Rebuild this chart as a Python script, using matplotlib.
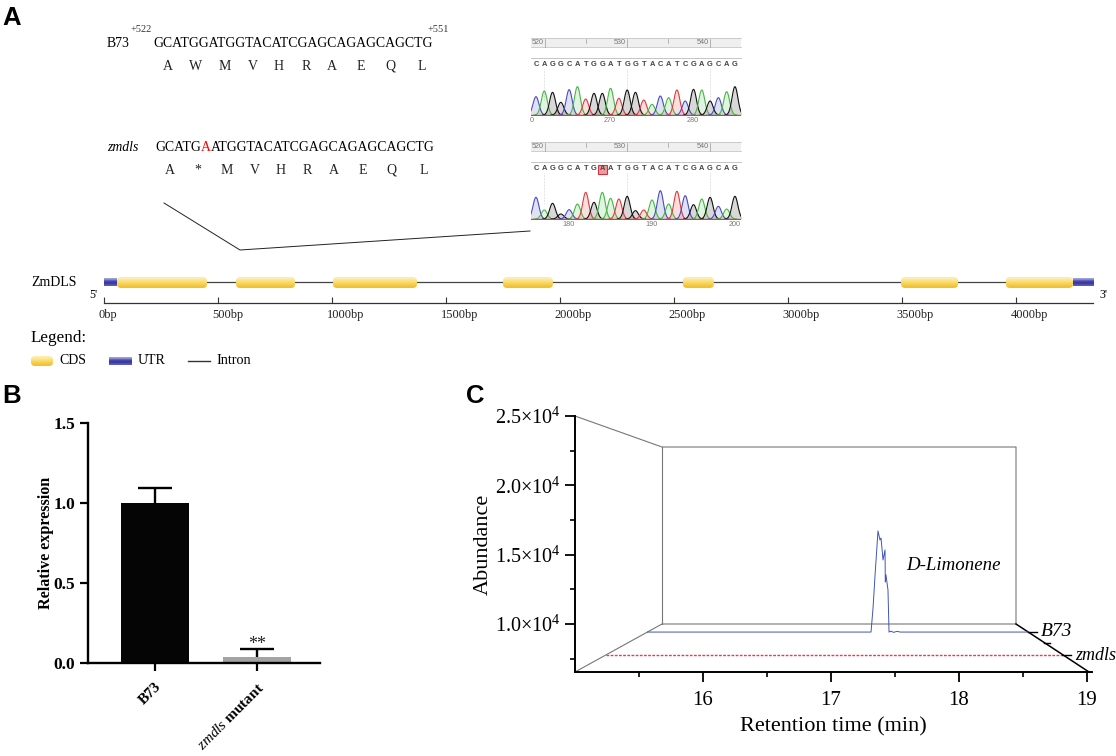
import matplotlib
matplotlib.use('Agg')
import matplotlib.pyplot as plt
import numpy as np
from matplotlib.patches import FancyBboxPatch, Rectangle

plt.rcParams['font.family'] = ['Liberation Serif', 'DejaVu Serif']
plt.rcParams['mathtext.fontset'] = 'custom'
plt.rcParams['mathtext.rm'] = 'Liberation Serif'
plt.rcParams['mathtext.it'] = 'Liberation Serif:italic'
plt.rcParams['mathtext.bf'] = 'Liberation Serif:bold'

W, H = 1116, 756

# panel A, sequences
seq_b73 = 'GCATGGATGGTACATCGAGCAGAGCAGCTG'
seq_mut_left = 'GCATG'
seq_mut_red = 'A'
seq_mut_right = 'ATGGTACATCGAGCAGAGCAGCTG'
aa_b73 = ['A', 'W', 'M', 'V', 'H', 'R', 'A', 'E', 'Q', 'L']
aa_mut = ['A', '*', 'M', 'V', 'H', 'R', 'A', 'E', 'Q', 'L']

# panel A, chromatograms
bases = 'CAGGCATGGATGGTACATCGAGCAG'
bases_mut = 'CAGGCATGAATGGTACATCGAGCAG'
peaks_b73 = [55, 72, 68, 38, 76, 85, 48, 65, 65, 80, 50, 75, 68, 45, 32, 57, 52, 75, 42, 77, 75, 42, 52, 70, 85]
peaks_mut = [65, 27, 47, 15, 28, 45, 80, 50, 80, 62, 60, 68, 25, 27, 57, 85, 45, 83, 70, 43, 60, 65, 38, 30, 68]
base_colors = {'A': '#45b845', 'C': '#4a4ac0', 'G': '#111111', 'T': '#e03a3a'}

# panel A, gene model (bp)
cds_start = [57, 579, 1004, 1750, 2539, 3496, 3956]
cds_end = [452, 838, 1373, 1969, 2675, 3746, 4250]
utr_start = [0, 4250]
utr_end = [57, 4338]
bp_ticks = [0, 500, 1000, 1500, 2000, 2500, 3000, 3500, 4000]

# panel B
genotypes = ['B73', r'$\mathit{zmdls}$ mutant']
expression = [1.0, 0.04]
expression_err = [0.095, 0.05]

# panel C
rt_ticks = [16, 17, 18, 19]
abundance_ticks = [1.0e4, 1.5e4, 2.0e4, 2.5e4]
abundance_labels = [r'1.0$\times$10$^{4}$', r'1.5$\times$10$^{4}$', r'2.0$\times$10$^{4}$', r'2.5$\times$10$^{4}$']
b73_time = [15.0, 17.352, 17.373, 17.394, 17.425, 17.446, 17.457, 17.478, 17.499, 17.502, 17.509, 17.530, 17.541, 17.56, 17.59, 17.625, 17.66, 19.0]
b73_abund = [9420, 9420, 11150, 13500, 16710, 16060, 16200, 14620, 15340, 13030, 13540, 12450, 9420, 9480, 9400, 9470, 9420, 9420]
mut_time = [15.0, 19.0]
mut_abund = [7770, 7770]


def px_axes(left, top, right, bottom, **kw):
    return fig.add_axes([left / W, 1 - bottom / H, (right - left) / W, (bottom - top) / H], **kw)


fig = plt.figure(figsize=(W / 100, H / 100), dpi=100)

# overlay in pixels for labels and guide lines
ov = px_axes(0, 0, W, H)
ov.set_xlim(0, W)
ov.set_ylim(H, 0)
ov.axis('off')

for letter, x, y in [('A', 2, 18), ('B', 2, 396), ('C', 466, 396)]:
    ov.text(x, y, letter, family='Liberation Sans', weight='bold', fontsize=18.5, va='center', ha='left')

seq_size = 9.95
ov.text(107, 47, 'B73', fontsize=seq_size, va='baseline')
ov.text(131, 32, '+522', fontsize=7.5, va='baseline', color='#333333')
ov.text(428, 32, '+551', fontsize=7.5, va='baseline', color='#333333')
ov.text(153, 47, seq_b73, fontsize=seq_size, va='baseline')
ov.text(107, 151, 'zmdls', fontsize=seq_size, style='italic', va='baseline')

# mutant sequence is put together piece by piece for the red base
renderer = fig.canvas.get_renderer()
x_now = 155
for part, col in [(seq_mut_left, 'black'), (seq_mut_red, 'red'), (seq_mut_right, 'black')]:
    t = ov.text(x_now, 151, part, fontsize=seq_size, va='baseline', color=col)
    x_now += t.get_window_extent(renderer).width

aa_x = [168, 196, 225, 253, 279, 306, 332, 361, 390, 422]
for x, a in zip(aa_x, aa_b73):
    ov.text(x, 66, a, fontsize=10, ha='center', va='center', color='#222222')
for x, a in zip(aa_x, aa_mut):
    ov.text(x + 1.5, 170, a, fontsize=10, ha='center', va='center', color='#222222')

ov.plot([164, 240, 530], [203, 250, 231], color='#222222', lw=0.7)

ov.text(31, 283, 'ZmDLS', fontsize=10, va='center')
ov.text(89, 295, "5'", fontsize=8.5, va='center')
ov.text(1099, 295, "3'", fontsize=8.5, va='center')
ov.text(31, 338, 'Legend:', fontsize=12.3, va='center')
ov.text(59, 361, 'CDS', fontsize=10, va='center')
ov.text(138, 361, 'UTR', fontsize=10, va='center')
ov.plot([188, 210], [361, 361], color='#333333', lw=1)
ov.text(216, 361, 'Intron', fontsize=10.2, va='center')


def chromatogram(top, shown, heights, ruler_labels, bottom_labels, highlight=None):
    # ruler band
    ov.add_patch(Rectangle((531, top), 210, 9, facecolor='#efefef', edgecolor='none'))
    ov.plot([531, 741], [top, top], color='#bbbbbb', lw=0.5)
    ov.plot([531, 741], [top + 9, top + 9], color='#bbbbbb', lw=0.5)
    ov.plot([531, 741], [top + 20, top + 20], color='#bbbbbb', lw=0.6)
    for x, lab in zip([545, 627, 710], ruler_labels):
        ov.plot([x, x], [top + 1, top + 9], color='#999999', lw=0.5)
        ov.text(x - 7, top + 5, lab, family='Liberation Sans', fontsize=5.2, color='#777777', ha='center', va='center')
    for x in [586, 668]:
        ov.plot([x, x], [top + 1, top + 5], color='#999999', lw=0.5)

    idx = np.arange(len(shown))
    base_x = 536 + idx * 8.29
    if highlight is not None:
        ov.add_patch(Rectangle((base_x[highlight] - 4.5, top + 22.5), 9, 9, facecolor='#f29a9a', edgecolor='#cc3344', lw=0.8, zorder=0.5))
    for x, b in zip(base_x, shown):
        ov.text(x, top + 27, b, family='Liberation Sans', fontsize=5.4, weight='bold', color='#444444', ha='center', va='center')
    for i in [1, 11, 21]:
        ov.plot([base_x[i], base_x[i]], [top + 31, top + 62], color='#aaaaaa', lw=0.4, ls=':')

    ax = px_axes(531, top + 40, 741, top + 78)
    ax.set_xlim(-0.6, 24.73)
    ax.set_ylim(-3, 111)
    ax.axis('off')
    ax.patch.set_alpha(0)
    for i, h, b in zip(idx, heights, shown):
        xs = np.linspace(i - 1.2, i + 1.2, 49)
        ys = h * np.exp(-((xs - i) / 0.5) ** 2)
        ax.fill_between(xs, 0, ys, color=base_colors[b], alpha=0.16, lw=0)
        ax.plot(xs, ys, color=base_colors[b], lw=0.8)
    ax.axhline(0, color='#d04040', lw=1)

    for x, lab in bottom_labels:
        ov.text(x, top + 82, lab, family='Liberation Sans', fontsize=5.2, color='#777777', ha='center', va='center')


chromatogram(38, bases, peaks_b73, ['520', '530', '540'], [(532, '0'), (610, '270'), (693, '280')])
chromatogram(142, bases_mut, peaks_mut, ['520', '530', '540'], [(569, '180'), (652, '190'), (735, '200')], highlight=8)

# gene model
gene = px_axes(104, 270, 1093, 303)
gene.set_xlim(0, 4338)
gene.set_ylim(303, 270)
gene.patch.set_alpha(0)
for s in ['top', 'left', 'right']:
    gene.spines[s].set_visible(False)
gene.spines['bottom'].set_linewidth(0.9)
gene.spines['bottom'].set_color('#333333')
gene.set_yticks([])
gene.set_xticks(bp_ticks)
gene.set_xticklabels([])
gene.tick_params(axis='x', direction='in', length=4.5, width=0.8, color='#333333')
gene.plot([0, 4338], [282, 282], color='#444444', lw=0.9, zorder=1)

cds_grad = np.array([[0.99, 0.93, 0.68], [0.98, 0.88, 0.50], [0.97, 0.82, 0.32], [0.95, 0.76, 0.20]])[:, None, :]
utr_grad = np.array([[0.62, 0.62, 0.85], [0.30, 0.30, 0.68], [0.20, 0.20, 0.62], [0.35, 0.35, 0.72]])[:, None, :]


def draw_block(ax, x0, x1, y0, y1, grad, round_size, aspect):
    patch = FancyBboxPatch((x0, y0), x1 - x0, y1 - y0, boxstyle='round,pad=0,rounding_size=%f' % round_size,
                           mutation_aspect=aspect, facecolor='none', edgecolor='none', zorder=2)
    ax.add_patch(patch)
    im = ax.imshow(grad, extent=(x0, x1, y1, y0), aspect='auto', interpolation='bilinear', zorder=2)
    im.set_clip_path(patch)


for a, b in zip(cds_start, cds_end):
    draw_block(gene, a, b, 277, 288, cds_grad, 18, 0.228)
for a, b in zip(utr_start, utr_end):
    gene.imshow(utr_grad, extent=(a, b, 286, 278), aspect='auto', interpolation='bilinear', zorder=1.5)
gene.set_xlim(0, 4338)
gene.set_ylim(303, 270)

for t in bp_ticks:
    gene.annotate('%dbp' % t, (t, 0), xycoords=('data', 'axes fraction'), xytext=(-4, -4), textcoords='offset points',
                  fontsize=8.9, ha='left', va='top', color='#222222', annotation_clip=False)

# legend swatches
leg = px_axes(0, 350, 140, 372)
leg.set_xlim(0, 140)
leg.set_ylim(372, 350)
leg.axis('off')
draw_block(leg, 31, 53, 356, 366, cds_grad, 4, 1)
leg.imshow(utr_grad, extent=(109, 132, 365, 357), aspect='auto', interpolation='bilinear')
leg.set_xlim(0, 140)
leg.set_ylim(372, 350)

# panel B
axb = px_axes(88, 423, 320, 663)
axb.set_xlim(-0.657, 1.618)
axb.set_ylim(0, 1.5)
axb.patch.set_alpha(0)
axb.bar([0, 1], expression, width=0.66, color=['#050505', '#a3a3a3'])
for i, (v, e) in enumerate(zip(expression, expression_err)):
    axb.vlines(i, v, v + e, color='black', lw=1.7)
    axb.hlines(v + e, i - 0.165, i + 0.165, color='black', lw=1.7)
for s in ['top', 'right']:
    axb.spines[s].set_visible(False)
axb.spines['left'].set_linewidth(1.7)
axb.spines['bottom'].set_linewidth(1.7)
axb.set_yticks([0, 0.5, 1.0, 1.5])
axb.set_yticklabels(['0.0', '0.5', '1.0', '1.5'], fontsize=12.5, weight='bold')
axb.set_xticks([0, 1])
axb.set_xticklabels(genotypes, fontsize=11, weight='bold', rotation=45, ha='right', rotation_mode='anchor')
axb.tick_params(axis='both', width=1.6, length=5.5)
axb.tick_params(axis='x', pad=7)
axb.set_ylabel('Relative expression', fontsize=11.6, weight='bold', labelpad=0)
axb.text(1, 0.115, '**', fontsize=13, ha='center', va='center', color='#222222')

# panel C, front axes
Y_MIN = 6540
axc = px_axes(575, 416, 1092, 672)
axc.set_xlim(15, 15 + 517 / 128)
axc.set_ylim(Y_MIN, 2.5e4)
axc.patch.set_alpha(0)
for s in ['top', 'right']:
    axc.spines[s].set_visible(False)
axc.spines['left'].set_linewidth(1.4)
axc.spines['bottom'].set_linewidth(1.4)
axc.set_xticks(rt_ticks)
axc.set_xticks([15.5, 16.5, 17.5, 18.5], minor=True)
axc.set_xticklabels([str(t) for t in rt_ticks], fontsize=15)
axc.set_yticks(abundance_ticks)
axc.set_yticks([0.75e4, 1.25e4, 1.75e4, 2.25e4], minor=True)
axc.set_yticklabels(abundance_labels, fontsize=14.5)
axc.tick_params(axis='both', which='major', width=1.3, length=7, pad=3)
axc.tick_params(axis='x', which='major', pad=7)
axc.tick_params(axis='both', which='minor', width=1.2, length=3.5)
axc.set_xlabel('Retention time (min)', fontsize=16, labelpad=5)
axc.set_ylabel('Abundance', fontsize=16, labelpad=2)

# panel C, back plane
ov.plot([575, 662, 1016, 1016, 662, 575], [416, 447, 447, 624, 624, 672], color='#777777', lw=0.8)
ov.plot([662, 662], [447, 624], color='#777777', lw=0.8)
ov.plot([1016, 1089], [624, 672], color='black', lw=1.1)
for x0, x1, y in [(1028, 1037, 632), (1044, 1050, 643), (1062, 1071, 655)]:
    ov.plot([x0, x1], [y, y], color='black', lw=1)
ov.text(1041, 632, 'B73', fontsize=14, style='italic', va='center')
ov.text(1075, 655, 'zmdls', fontsize=13, style='italic', va='center')
ov.text(906, 565, 'D-Limonene', fontsize=13.6, style='italic', va='center')

# traces sit on the sheared floor, each with its own time scale
tr_b = px_axes(647, 416, 1028, 672)
tr_b.set_xlim(15, 19)
tr_b.set_ylim(Y_MIN, 2.5e4)
tr_b.axis('off')
tr_b.plot(b73_time, b73_abund, color='#3f55b5', lw=0.7)

tr_m = px_axes(606, 416, 1062, 672)
tr_m.set_xlim(15, 19)
tr_m.set_ylim(Y_MIN, 2.5e4)
tr_m.axis('off')
tr_m.plot(mut_time, mut_abund, color='#f0384a', lw=1.0, ls=(0, (2, 1)))

fig.savefig('out.png', dpi=100)
